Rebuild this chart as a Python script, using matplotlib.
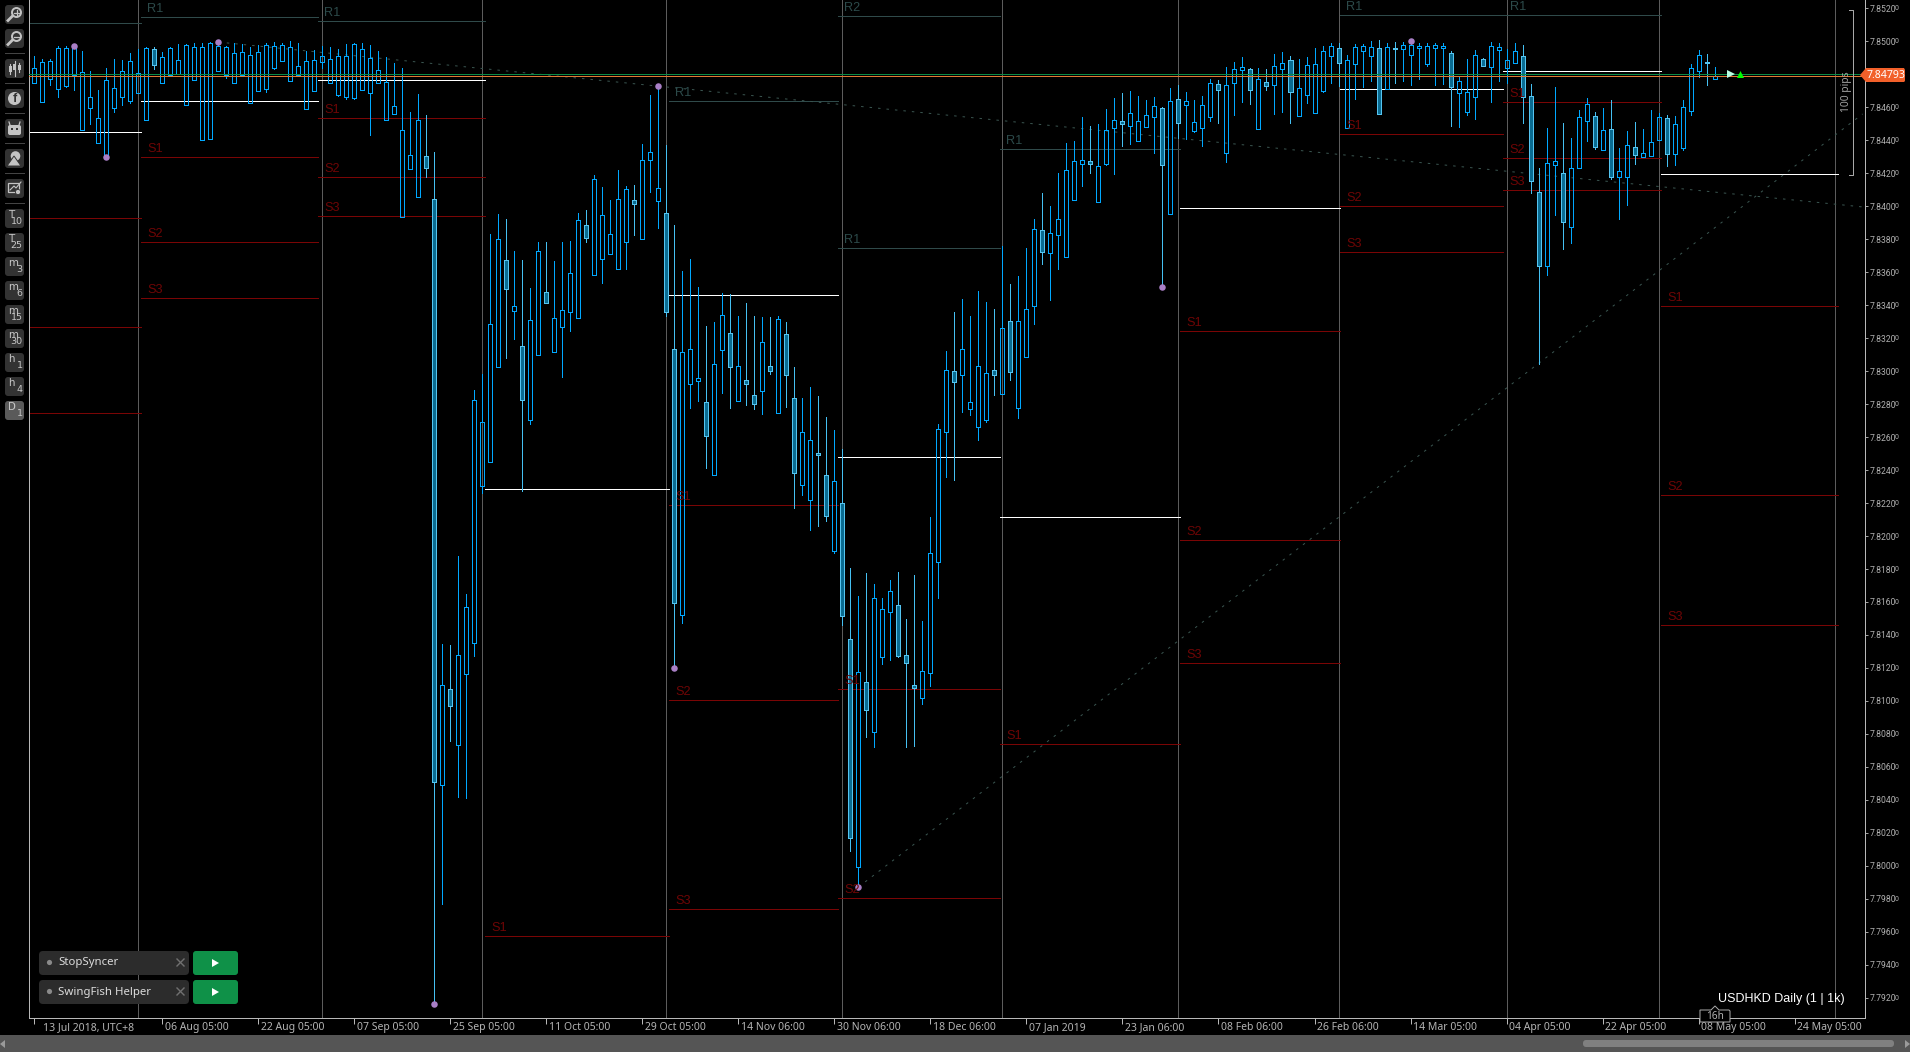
import numpy as np
from matplotlib import pyplot as plt
from matplotlib.patches import FancyBboxPatch, Polygon, Circle, Rectangle

# prices are stored as points above 7.00000
high_pts = [
    84911,84893,84893,84972,84972,84972,84942,84820,84705,84839,
    84893,84887,84930,84954,84966,84966,84936,84966,84984,84984,
    84990,84990,84996,84996,84972,84990,84984,84966,84978,84990,
    84996,84990,85002,84990,84942,84948,84972,84966,84954,84984,
    84990,84990,84978,84942,84905,84869,84839,84572,84681,84554,
    84329,81345,81339,81879,81648,82886,82983,83832,83953,83923,
    83729,83674,83504,83783,83783,83668,83783,83789,83959,83977,
    84190,84117,84038,84220,84123,84129,84378,84675,84723,84372,
    83886,83607,83680,83510,83274,83298,83474,83468,83334,83413,
    83334,83328,83328,83334,83298,83025,82837,82904,82849,82722,
    82643,82528,81806,81636,81776,81709,81624,81733,81782,81497,
    81764,81485,82115,82679,83122,83359,83438,83334,83486,83419,
    83377,83759,83529,83577,83747,83923,84080,84002,84202,84384,
    84396,84541,84487,84499,84590,84657,84687,84699,84669,84645,
    84663,84602,84717,84735,84693,84645,84669,84772,84766,84845,
    84875,84905,84839,84839,84833,84924,84936,84911,84893,84905,
    84960,84972,84990,84990,84917,84984,84984,85002,85008,84990,
    84996,84996,85002,84990,84990,84990,84990,84942,84784,84893,
    84948,84899,84996,84990,84954,84990,84978,84742,84232,84475,
    84723,84505,84414,84584,84657,84572,84596,84645,84353,84457,
    84511,84469,84584,84566,84554,84548,84645,84863,84948,84924,84845]
low_pts = [
    84748,84632,84735,84663,84723,84705,84463,84499,84384,84299,
    84572,84614,84626,84687,84523,84833,84748,84796,84802,84614,
    84766,84402,84408,84820,84778,84748,84796,84626,84699,84693,
    84833,84881,84760,84796,84590,84699,84839,84748,84669,84651,
    84651,84705,84432,84748,84523,84560,83935,84226,84056,84178,
    79162,79768,80757,80417,80411,81272,82261,82449,83025,83080,
    83195,82273,82679,83098,83413,83116,82964,83243,83322,83783,
    83583,83535,83710,83620,83620,83826,83801,84087,83868,83334,
    81200,81473,82776,82819,82413,82370,82867,82776,82819,82795,
    82770,82740,82983,82746,82783,82170,82249,82037,82061,82091,
    81897,81460,80090,79871,80781,80720,81224,81248,81266,80720,
    80727,80981,81090,81624,82358,82340,82752,82734,82582,82692,
    82855,82861,82946,82716,83086,83286,83650,83431,83620,83692,
    84038,84123,84202,84026,84250,84196,84366,84378,84396,84481,
    84323,83510,83953,84414,84408,84450,84366,84517,84505,84269,
    84554,84632,84620,84469,84705,84560,84572,84505,84548,84626,
    84566,84693,84748,84729,84475,84651,84723,84760,84560,84711,
    84748,84760,84735,84772,84851,84735,84742,84487,84481,84554,
    84529,84851,84632,84760,84748,84869,84505,84080,83043,83583,
    83947,83741,83777,84232,84396,84347,84341,84165,83923,84008,
    84256,84299,84305,84402,84244,84250,84341,84554,84784,84735,84772]
open_pts = [
    84748,84632,84772,84711,84729,84796,84463,84596,84384,84299,
    84596,84663,84638,84687,84523,84954,84748,84796,84802,84614,
    84766,84402,84408,84820,84796,84748,84796,84626,84699,84711,
    84839,84881,84760,84796,84590,84699,84875,84748,84675,84663,
    84657,84705,84687,84748,84523,84560,83935,84226,84056,84305,
    84044,80490,81072,80733,81163,81351,82303,82449,83025,83674,
    83365,83153,82704,83098,83480,83116,83268,83359,83322,83886,
    83583,83680,83710,83620,83783,84038,83801,84281,84032,83959,
    83134,81521,82922,82940,82813,82370,83128,83231,82819,82946,
    82855,82880,83031,82746,83225,82837,82309,82218,82504,82370,
    81909,82200,81375,79993,81115,80811,81266,81539,81582,81278,
    81096,81018,81169,81842,82631,83001,82977,82770,82661,82704,
    83007,82861,83304,82776,83086,83395,83856,83717,83826,83692,
    84038,84256,84275,84026,84256,84475,84517,84487,84396,84481,
    84541,84596,83953,84651,84614,84457,84475,84541,84742,84323,
    84748,84826,84833,84469,84754,84735,84833,84887,84548,84675,
    84566,84699,84911,84960,84475,84863,84942,84911,84960,84711,
    84960,84954,84917,84960,84863,84960,84960,84930,84687,84572,
    84663,84893,84845,84948,84839,84869,84911,84669,84087,83638,
    84250,84202,83874,84232,84517,84548,84341,84469,84178,84178,
    84360,84299,84305,84402,84535,84317,84353,84578,84820,84875,84772]
close_pts = [
    84839,84875,84881,84960,84960,84960,84814,84663,84535,84766,
    84717,84820,84881,84808,84960,84857,84905,84960,84887,84978,
    84966,84966,84990,84972,84966,84930,84936,84917,84936,84978,
    84972,84978,84966,84851,84881,84887,84911,84893,84911,84911,
    84984,84954,84899,84826,84754,84608,84463,84311,84523,84232,
    80508,81096,80969,81278,81570,82825,82692,83286,83801,83498,
    83395,82825,83310,83729,83413,83322,83371,83595,83917,83808,
    84165,83947,83832,84044,84105,84014,84281,84329,84111,83359,
    81594,83116,83134,82958,82607,83043,83341,83025,83031,82922,
    82801,83177,83001,83316,82977,82382,82631,82582,82491,82121,
    82334,81515,80169,81175,80945,81624,81557,81667,81272,81230,
    81078,81181,81897,82649,83007,82934,83134,82813,83031,82989,
    82977,83262,82995,83304,83377,83862,83723,83838,83923,84220,
    84275,84281,84256,84244,84463,84523,84499,84566,84517,84554,
    84608,84250,84638,84505,84638,84511,84614,84748,84705,84735,
    84833,84845,84705,84772,84729,84851,84869,84693,84717,84857,
    84863,84942,84972,84869,84887,84966,84972,84966,84560,84966,
    84954,84978,84978,84972,84972,84978,84972,84723,84760,84693,
    84917,84851,84972,84966,84887,84942,84663,84153,83638,84263,
    84275,83905,84232,84541,84620,84360,84463,84178,84214,84372,
    84311,84323,84390,84541,84317,84499,84602,84839,84917,84869,84793]

tick_pos = [0, 16, 28, 40, 52, 64, 76, 88, 100, 112, 124, 136, 148, 160, 172, 184, 196, 208, 220]
tick_labels = ["13 Jul 2018, UTC+8", "06 Aug 05:00", "22 Aug 05:00", "07 Sep 05:00", "25 Sep 05:00",
               "11 Oct 05:00", "29 Oct 05:00", "14 Nov 06:00", "30 Nov 06:00", "18 Dec 06:00",
               "07 Jan 2019", "23 Jan 06:00", "08 Feb 06:00", "26 Feb 06:00", "14 Mar 05:00",
               "04 Apr 05:00", "22 Apr 05:00", "08 May 05:00", "24 May 05:00"]
y_ticks = [7.792 + 0.002 * n for n in range(31)]

period_lines = [13, 36, 56, 79, 101, 121, 143, 163, 184, 203, 225]
level_edges = [-0.66, 13.34, 35.46, 56.34, 79.34, 100.46, 120.71, 143.21, 163.2, 183.6, 203.3, 225.46]
nan = None
r2_pts = [nan, nan, nan, nan, nan, 85154, nan, nan, nan, nan, nan]
r1_pts = [85112, 85148, 85124, nan, 84638, 83747, 84347, nan, 85160, 85160, nan]
pivot_pts = [84450, 84638, 84766, 82285, 83462, 82479, 82115, 83989, 84711, 84820, 84196]
s1_pts = [83929, 84299, 84535, 79574, 82188, 81072, 80739, 83243, 84438, 84632, 83395]
s2_pts = [83268, 83783, 84178, nan, 81006, 79805, nan, 81976, 84002, 84293, 82249]
s3_pts = [82746, 83444, 83941, nan, 79738, nan, nan, 81230, 83723, 84099, 81460]

swing_idx = [5, 9, 23, 50, 78, 80, 103, 141, 172]
swing_pts = [84972, 84299, 84996, 79162, 84729, 81200, 79871, 83510, 85002]
trend_down = ([23, 228.5], [84996, 83996])
trend_up = ([103, 228.5], [79871, 84560])

last_price = 7.84793
W, H = 1910, 1052
LEFT, RIGHT, BOTTOM = 29, 1865, 1018
PX = 0.72  # one pixel in points at dpi 100

def pr(points):
    return 7 + np.asarray(points, dtype=float) / 1e5

plt.rcParams["font.family"] = ["Noto Sans", "DejaVu Sans"]
fig = plt.figure(figsize=(W / 100, H / 100), dpi=100, facecolor="black")
ax = fig.add_axes([LEFT / W, 1 - BOTTOM / H, (RIGHT - LEFT) / W, BOTTOM / H], facecolor="black")
ax.set_xlim(-0.66, 228.8)
ax.set_ylim(7.85251 - BOTTOM / 16488, 7.85251)

for x in period_lines:
    ax.axvline(x, color="#5c5c5c", lw=PX, zorder=1, antialiased=False)

# monthly pivot levels
color_text = {"R": "#2c4a4a", "S": "#6e0505"}

def draw_levels(values, color, name):
    for n, v in enumerate(values):
        if v is None:
            continue
        ax.hlines(pr(v), level_edges[n], level_edges[n + 1], color=color, lw=PX, zorder=2, antialiased=False)
        if name and n > 0:
            ax.annotate(name, xy=(level_edges[n], pr(v)), xytext=(4.5, 1.5), textcoords="offset points",
                        color=color_text[name[0]], fontsize=9.2, family="Liberation Sans", va="bottom", zorder=6)

draw_levels(r2_pts, "#2f4a4a", "R2")
draw_levels(r1_pts, "#2f4a4a", "R1")
draw_levels(s1_pts, "#7a0505", "S1")
draw_levels(s2_pts, "#7a0505", "S2")
draw_levels(s3_pts, "#7a0505", "S3")
draw_levels(pivot_pts, "#ffffff", None)

ax.plot(trend_down[0], pr(trend_down[1]), color="#3a5550", lw=PX, dashes=(2.5, 6), zorder=2)
ax.plot(trend_up[0], pr(trend_up[1]), color="#3a5550", lw=PX, dashes=(2.5, 6), zorder=2)

# candles
o = pr(open_pts)
c = pr(close_pts)
hi = pr(high_pts)
lo = pr(low_pts)
xs = np.arange(len(o))
down = c < o
body_top = np.maximum(o, c)
body_bot = np.minimum(o, c)
wick_col = np.where(down, "#45c0f2", "#00a8ff")
ax.vlines(xs, body_top, hi, colors=wick_col, lw=PX, zorder=3, antialiased=False)
ax.vlines(xs, lo, body_bot, colors=wick_col, lw=PX, zorder=3, antialiased=False)
ax.bar(xs[~down], (body_top - body_bot)[~down], 0.5, body_bot[~down], facecolor="none",
       edgecolor="#00a8ff", lw=PX, zorder=4, antialiased=False)
ax.bar(xs[down], (body_top - body_bot)[down], 0.5, body_bot[down], facecolor="#0a6c92",
       edgecolor="#55c4f0", lw=PX, zorder=4, antialiased=False)

ax.scatter(swing_idx, pr(swing_pts), s=22, color="#a97fc6", linewidths=0, zorder=5)

# last price lines
ax.axhline(last_price + 0.00010, color="#0c8a45", lw=PX, zorder=5, antialiased=False)
ax.axhline(last_price, color="#e07a35", lw=PX, zorder=5, antialiased=False)

ax.set_xticks(tick_pos)
ax.set_xticklabels([])
ax.yaxis.tick_right()
ax.set_yticks(y_ticks)
ax.set_yticklabels([f"{v:.4f}" for v in y_ticks], family="Roboto")
ax.tick_params(axis="y", length=2.2, width=PX, color="#a0a0a0", labelcolor="#b0b0b0", labelsize=6.2, pad=0.8)
ax.tick_params(axis="x", length=4, width=PX, color="#b8b8b8")
ax.spines["top"].set_visible(False)
for s in ["left", "right", "bottom"]:
    ax.spines[s].set_color("#b8b8b8")
    ax.spines[s].set_linewidth(PX)
for v in y_ticks:
    ax.annotate("0", xy=(1, v), xycoords=("axes fraction", "data"), xytext=(21.6, -0.4), textcoords="offset points",
                color="#b0b0b0", fontsize=5, va="center", ha="left", family="Roboto")
for p, t in zip(tick_pos, tick_labels):
    ax.annotate(t, xy=(p, 0), xycoords=("data", "axes fraction"), xytext=(1.6 if p else 6, -7), textcoords="offset points",
                color="#b4b4b4", fontsize=7.5, va="center", ha="left", annotation_clip=False)

# screen furniture in pixel coordinates
ui = fig.add_axes([0, 0, 1, 1], facecolor="none", zorder=10)
ui.set_xlim(0, W)
ui.set_ylim(H, 0)
ui.axis("off")

def box(x0, y0, x1, y1, color, rad=3):
    ui.add_patch(FancyBboxPatch((x0 + rad, y0 + rad), x1 - x0 - 2 * rad, y1 - y0 - 2 * rad,
                                boxstyle=f"round,pad={rad},rounding_size={rad}", fc=color, ec="none"))

# toolbar
for y in [53, 83, 113, 143, 173, 203]:
    ui.plot([5, 24], [y, y], color="#444444", lw=PX)
for y in [5, 29, 59, 89, 119, 149, 179]:
    box(5, y, 24, y + 19, "#333333")
ico = "#c4c4c4"
for y, sign in [(5, "+"), (29, "-")]:
    ui.add_patch(Circle((16.5, y + 7.5), 4.5, fc="none", ec=ico, lw=1.4))
    ui.plot([12.5, 8], [y + 11, y + 15.5], color=ico, lw=2)
    ui.plot([14, 19], [y + 7.5, y + 7.5], color=ico, lw=0.9)
    if sign == "+":
        ui.plot([16.5, 16.5], [y + 5, y + 10], color=ico, lw=0.9)
ui.plot([10, 10], [64, 74], color=ico, lw=0.8)
ui.plot([14.5, 14.5], [61, 76], color=ico, lw=0.8)
ui.plot([19, 19], [63, 72], color=ico, lw=0.8)
for x, a, b in [(10, 66, 72), (14.5, 64, 70), (19, 65, 70)]:
    ui.add_patch(Rectangle((x - 1.5, a), 3, b - a, fc=ico, ec="none"))
ui.add_patch(Circle((14.5, 98.5), 6.5, fc=ico, ec="none"))
ui.text(15, 99, "f", color="#333333", fontsize=9, weight="bold", family="Liberation Sans", ha="center", va="center")
box(8, 125, 21, 135, ico, 2)
ui.add_patch(Rectangle((11, 128), 2, 2, fc="#333333", ec="none"))
ui.add_patch(Rectangle((16, 128), 2, 2, fc="#333333", ec="none"))
ui.plot([9, 10], [122, 125], color=ico, lw=0.9)
ui.plot([20, 19], [122, 125], color=ico, lw=0.9)
ui.add_patch(Circle((15.5, 156), 4.8, fc=ico, ec="none"))
ui.add_patch(Polygon([[7, 166], [14, 156], [21, 166]], fc=ico, ec="#333333", lw=0.7))
ui.add_patch(Rectangle((8, 183), 11, 9, fc="none", ec=ico, lw=0.9))
ui.plot([10, 14, 16, 21], [190, 186, 188, 182], color=ico, lw=0.8)
ui.add_patch(Circle((18, 192), 2.6, fc=ico, ec="#333333", lw=0.6))
tf_big = ["T", "T", "m", "m", "m", "m", "h", "h", "D"]
tf_small = ["10", "25", "3", "6", "15", "30", "1", "4", "1"]
for n, (a, b) in enumerate(zip(tf_big, tf_small)):
    y = 209 + 24 * n
    box(5, y, 24, y + 19, "#5a5a5a" if a == "D" else "#333333")
    ui.text(8, y + 5.5, a, color="#c8c8c8", fontsize=7.4, family="DejaVu Sans", va="center")
    ui.text(22.5, y + 13, b, color="#c8c8c8", fontsize=6.8, family="DejaVu Sans", va="center", ha="right")

# bot panels
for y, name in [(951, "StopSyncer"), (980, "SwingFish Helper")]:
    box(39, y, 189, y + 24, "#2c2c2c", 4)
    ui.add_patch(Circle((49.5, y + 11.5), 2.6, fc="#8a8a8a", ec="none"))
    ui.text(58, y + 12, name, color="#dcdcdc", fontsize=8.2, va="center", family="Noto Sans")
    ui.plot([177, 184], [y + 8, y + 15], color="#707070", lw=1)
    ui.plot([177, 184], [y + 15, y + 8], color="#707070", lw=1)
    box(193, y, 238, y + 24, "#0f9148", 3)
    ui.add_patch(Polygon([[212, y + 8], [212, y + 16], [219, y + 12]], fc="white", ec="none"))

# price tag, markers, range bracket
ui.add_patch(Polygon([[1860, 75], [1866, 68], [1904, 68], [1905, 70], [1905, 81], [1904, 82], [1866, 82]], fc="#f2602a", ec="none"))
ui.text(1866.5, 75.5, "7.84793", color="white", fontsize=7.6, va="center", family="Noto Sans")
ui.add_patch(Polygon([[1727, 70], [1727, 78], [1735, 74]], fc="#b8ffe4", ec="none"))
ui.add_patch(Polygon([[1737, 78], [1744, 78], [1740.5, 71]], fc="#00ff00", ec="none"))
ui.plot([1849, 1853, 1853, 1849], [10, 10, 175, 175], color="#a8a8a8", lw=PX)
ui.text(1846, 92, "100 pips", color="#a0a0a0", fontsize=7.4, rotation=90, ha="center", va="center", family="Noto Sans")

ui.text(1718, 999, "USDHKD Daily (1 | 1k)", color="white", fontsize=9, va="center", family="Liberation Sans")
ui.add_patch(Polygon([[1700, 1010], [1711, 1010], [1715, 1006], [1719, 1010], [1729, 1010], [1730, 1011], [1730, 1022], [1700, 1022]],
                     fc="black", ec="#a8a8a8", lw=PX))
ui.text(1715, 1016.5, "16h", color="#b4b4b4", fontsize=7.2, ha="center", va="center", family="Noto Sans")

# scroll bar
ui.add_patch(Rectangle((0, 1035), W, 17, fc="#555555", ec="none"))
box(1583, 1040, 1894, 1047, "#808080", 3)
ui.add_patch(Polygon([[0, 1044], [5, 1040], [5, 1048]], fc="#9a9a9a", ec="none"))
ui.add_patch(Polygon([[1910, 1044], [1905, 1040], [1905, 1048]], fc="#9a9a9a", ec="none"))

fig.savefig("out.png", dpi=100, facecolor="black")
